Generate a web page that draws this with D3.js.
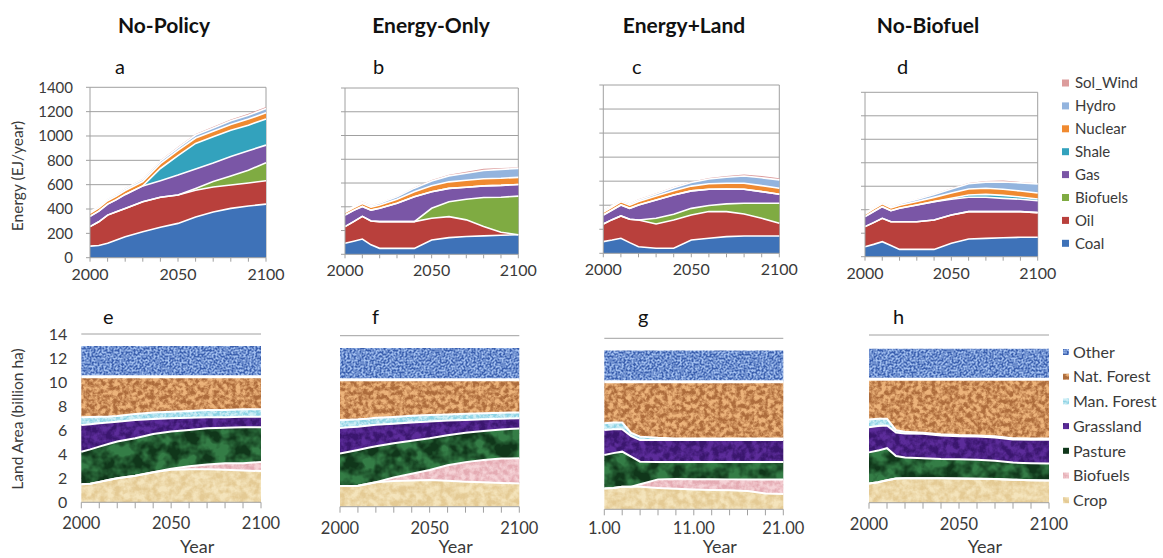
<!DOCTYPE html>
<html>
<head>
<meta charset="utf-8">
<script src="https://cdn.jsdelivr.net/npm/d3@7"></script>
<style>
  body { margin: 0; background: #fff; }
  svg { font-family: Lato, "Open Sans", sans-serif; }
</style>
</head>
<body>
<svg id="chart" width="1163" height="558"></svg>
<script>
// ---- data ----
const years = [2000, 2005, 2010, 2015, 2020, 2030, 2040, 2050, 2060, 2070, 2080, 2090, 2100];
const scenarios = ['No-Policy', 'Energy-Only', 'Energy+Land', 'No-Biofuel'];
const energyLetters = ['a', 'b', 'c', 'd'];
const landLetters = ['e', 'f', 'g', 'h'];
const energyKeys = ['Coal', 'Oil', 'Biofuels', 'Gas', 'Shale', 'Nuclear', 'Hydro', 'Sol_Wind'];
const landKeys = ['Crop', 'Biofuels', 'Pasture', 'Grassland', 'Man. Forest', 'Nat. Forest', 'Other'];
const energyTicks = [0, 200, 400, 600, 800, 1000, 1200, 1400];
const landTicks = [0, 2, 4, 6, 8, 10, 12, 14];
const yearLabels = [2000, 2050, 2100];
const indexLabels = [1, 11, 21];

// energy use, EJ/year
const energyNoPolicy = {
  Coal:     [95, 100, 118, 145, 172, 213, 250, 282, 335, 375, 405, 425, 440],
  Oil:      [160, 195, 232, 232, 233, 247, 246, 233, 219, 206, 192, 189, 192],
  Biofuels: [0, 0, 0, 0, 0, 0, 0, 0, 15, 45, 75, 105, 148],
  Gas:      [85, 88, 90, 100, 115, 130, 137, 164, 160, 152, 160, 160, 145],
  Shale:    [0, 0, 0, 0, 0, 0, 100, 160, 210, 215, 215, 210, 215],
  Nuclear:  [25, 26, 28, 30, 32, 36, 40, 42, 44, 46, 48, 50, 50],
  Hydro:    [12, 12, 13, 14, 15, 17, 20, 22, 25, 27, 30, 32, 35],
  Sol_Wind: [3, 3, 3, 4, 5, 6, 7, 8, 9, 10, 11, 12, 14]
};
const energyEnergyOnly = {
  Coal:     [93, 110, 128, 80, 50, 50, 50, 121, 140, 150, 155, 160, 165],
  Oil:      [140, 165, 191, 200, 225, 225, 225, 182, 177, 140, 79, 25, 0],
  Biofuels: [0, 0, 0, 0, 0, 0, 0, 84, 126, 174, 244, 295, 325],
  Gas:      [98, 95, 84, 92, 112, 154, 210, 140, 112, 101, 98, 100, 98],
  Shale:    [0, 0, 0, 0, 0, 0, 0, 0, 0, 0, 0, 0, 0],
  Nuclear:  [20, 22, 25, 25, 28, 35, 42, 50, 55, 58, 60, 60, 60],
  Hydro:    [8, 10, 12, 13, 15, 20, 30, 40, 50, 60, 70, 75, 75],
  Sol_Wind: [3, 3, 4, 4, 4, 5, 6, 8, 10, 12, 15, 12, 8]
};
const energyEnergyLand = {
  Coal:     [97, 110, 125, 89, 55, 42, 42, 111, 125, 139, 144, 144, 144],
  Oil:      [147, 170, 186, 194, 222, 202, 235, 208, 222, 208, 183, 147, 106],
  Biofuels: [0, 0, 0, 0, 0, 47, 48, 55, 50, 64, 89, 125, 166],
  Gas:      [75, 80, 91, 91, 125, 153, 160, 145, 136, 124, 117, 97, 75],
  Shale:    [0, 0, 0, 0, 0, 0, 0, 0, 0, 0, 0, 0, 0],
  Nuclear:  [22, 24, 26, 26, 28, 32, 36, 40, 45, 48, 50, 50, 50],
  Hydro:    [12, 12, 12, 13, 14, 18, 25, 30, 40, 50, 60, 65, 70],
  Sol_Wind: [6, 5, 4, 4, 5, 5, 6, 6, 8, 10, 12, 15, 14]
};
const energyNoBiofuel = {
  Coal:     [85, 105, 128, 95, 62, 62, 62, 114, 151, 156, 162, 165, 165],
  Oil:      [171, 185, 199, 203, 236, 236, 250, 241, 233, 228, 222, 219, 210],
  Biofuels: [0, 0, 0, 0, 0, 0, 0, 0, 0, 0, 0, 0, 0],
  Gas:      [85, 95, 99, 94, 114, 142, 157, 134, 122, 122, 113, 105, 102],
  Shale:    [0, 0, 0, 0, 0, 0, 0, 8, 20, 25, 25, 20, 15],
  Nuclear:  [20, 22, 24, 24, 26, 30, 36, 45, 50, 52, 52, 50, 50],
  Hydro:    [10, 11, 12, 12, 14, 18, 25, 35, 45, 52, 62, 70, 78],
  Sol_Wind: [3, 3, 3, 3, 4, 4, 5, 5, 6, 10, 12, 8, 6]
};

// land area, billion ha
const landNoPolicy = {
  'Crop':        [1.50, 1.55, 1.70, 1.85, 2.00, 2.20, 2.50, 2.70, 2.75, 2.75, 2.70, 2.65, 2.60],
  'Biofuels':    [0, 0, 0, 0, 0, 0, 0, 0.10, 0.25, 0.40, 0.55, 0.60, 0.75],
  'Pasture':     [2.70, 2.85, 2.93, 3.00, 3.05, 3.12, 3.18, 3.08, 3.02, 3.00, 2.96, 2.99, 2.89],
  'Grassland':   [2.23, 2.10, 1.94, 1.79, 1.66, 1.53, 1.25, 1.11, 1.02, 0.92, 0.86, 0.88, 0.88],
  'Man. Forest': [0.64, 0.60, 0.55, 0.50, 0.47, 0.50, 0.53, 0.55, 0.56, 0.61, 0.61, 0.61, 0.61],
  'Nat. Forest': [3.38, 3.35, 3.33, 3.31, 3.27, 3.10, 2.99, 2.91, 2.85, 2.77, 2.77, 2.72, 2.72],
  'Other':       [2.55, 2.55, 2.55, 2.55, 2.55, 2.55, 2.55, 2.55, 2.55, 2.55, 2.55, 2.55, 2.55]
};
const landEnergyOnly = {
  'Crop':        [1.70, 1.70, 1.72, 1.85, 2.00, 2.10, 2.15, 2.18, 2.13, 2.05, 2.00, 1.95, 1.90],
  'Biofuels':    [0, 0, 0, 0, 0, 0.30, 0.55, 0.82, 1.27, 1.60, 1.82, 2.00, 2.06],
  'Pasture':     [2.65, 2.80, 2.93, 2.95, 2.95, 2.80, 2.70, 2.60, 2.45, 2.40, 2.38, 2.37, 2.45],
  'Grassland':   [2.10, 2.00, 1.90, 1.82, 1.75, 1.60, 1.50, 1.38, 1.20, 1.05, 0.95, 0.88, 0.84],
  'Man. Forest': [0.65, 0.62, 0.60, 0.58, 0.58, 0.55, 0.55, 0.52, 0.50, 0.50, 0.50, 0.50, 0.47],
  'Nat. Forest': [3.30, 3.28, 3.25, 3.20, 3.12, 3.05, 2.95, 2.90, 2.85, 2.80, 2.75, 2.70, 2.68],
  'Other':       [2.60, 2.60, 2.60, 2.60, 2.60, 2.60, 2.60, 2.60, 2.60, 2.60, 2.60, 2.60, 2.60]
};
const landEnergyLand = {
  'Crop':        [1.70, 1.75, 1.85, 1.85, 1.85, 1.75, 1.68, 1.62, 1.58, 1.55, 1.50, 1.30, 1.25],
  'Biofuels':    [0, 0, 0, 0, 0.20, 0.70, 0.80, 0.85, 0.88, 0.90, 0.95, 1.15, 1.20],
  'Pasture':     [2.75, 2.85, 2.87, 2.46, 1.85, 1.43, 1.40, 1.41, 1.42, 1.43, 1.43, 1.43, 1.43],
  'Grassland':   [2.04, 1.95, 1.83, 1.69, 1.78, 1.80, 1.80, 1.80, 1.80, 1.80, 1.80, 1.80, 1.80],
  'Man. Forest': [0.56, 0.55, 0.55, 0.25, 0.27, 0.17, 0.12, 0.12, 0.12, 0.12, 0.12, 0.12, 0.12],
  'Nat. Forest': [3.40, 3.35, 3.35, 4.20, 4.50, 4.60, 4.65, 4.65, 4.65, 4.65, 4.65, 4.65, 4.65],
  'Other':       [2.55, 2.55, 2.55, 2.55, 2.55, 2.55, 2.55, 2.55, 2.55, 2.55, 2.55, 2.55, 2.55]
};
const landNoBiofuel = {
  'Crop':        [1.60, 1.70, 1.88, 2.02, 2.05, 2.05, 2.05, 2.02, 2.00, 1.98, 1.92, 1.88, 1.85],
  'Biofuels':    [0, 0, 0, 0, 0, 0, 0, 0, 0, 0, 0, 0, 0],
  'Pasture':     [2.60, 2.65, 2.67, 1.88, 1.73, 1.67, 1.60, 1.60, 1.58, 1.52, 1.43, 1.42, 1.43],
  'Grassland':   [2.10, 2.05, 1.90, 1.95, 2.00, 2.03, 1.97, 1.93, 1.94, 1.95, 1.93, 1.95, 1.97],
  'Man. Forest': [0.65, 0.60, 0.55, 0.20, 0.14, 0.10, 0.10, 0.10, 0.10, 0.10, 0.10, 0.10, 0.10],
  'Nat. Forest': [3.35, 3.30, 3.30, 4.25, 4.38, 4.45, 4.58, 4.65, 4.68, 4.75, 4.92, 4.95, 4.95],
  'Other':       [2.55, 2.55, 2.55, 2.55, 2.55, 2.55, 2.55, 2.55, 2.55, 2.55, 2.55, 2.55, 2.55]
};

const energyData = [energyNoPolicy, energyEnergyOnly, energyEnergyLand, energyNoBiofuel];
const landData = [landNoPolicy, landEnergyOnly, landEnergyLand, landNoBiofuel];

// ---- styles / layout ----
const energyColors = {
  Coal: '#3e72b8', Oil: '#b9403c', Biofuels: '#7fab42', Gas: '#7a56a6',
  Shale: '#33a2bd', Nuclear: '#f08a30', Hydro: '#93b4de', Sol_Wind: '#dc9c9c'
};
const landTextures = {
  'Other':       {light: '#a3c0ef', dark: '#3a5fae', freq: 0.5, k: 3, seed: 2},
  'Nat. Forest': {light: '#ecb37a', dark: '#ad6c3c', freq: 0.22, k: 3, seed: 5},
  'Man. Forest': {light: '#cdeef6', dark: '#8dd2e3', freq: 0.3, k: 3, seed: 7},
  'Grassland':   {light: '#5c2c9a', dark: '#3a166e', freq: 0.15, k: 3, seed: 9},
  'Pasture':     {light: '#347d46', dark: '#10361a', freq: 0.07, k: 3, seed: 11},
  'Biofuels':    {light: '#f5d2d6', dark: '#e4abb3', freq: 0.2, k: 2.5, seed: 13},
  'Crop':        {light: '#f4e4bc', dark: '#e4ca94', freq: 0.15, k: 2.5, seed: 15}
};
const energyBoxes = [
  {x0: 90, x1: 266, top: 87.3, bot: 257.7},
  {x0: 345, x1: 518.3, top: 88, bot: 254.3},
  {x0: 603.3, x1: 779.3, top: 85, bot: 253.3},
  {x0: 865, x1: 1037.7, top: 92.3, bot: 256.7}
];
const landBoxes = [
  {x0: 81.3, x1: 261, top: 334, bot: 502.3},
  {x0: 340, x1: 519.3, top: 335.7, bot: 506.7},
  {x0: 604.3, x1: 783.3, top: 338.3, bot: 509.3},
  {x0: 869, x1: 1049, top: 335, bot: 502.7}
];
const titleX = [164, 431, 684, 928];
const gridColor = '#a0a0a0';
const textColor = '#3a3a3a';

const svg = d3.select('#chart');
const defs = svg.append('defs');

const texId = k => 'tex-' + k.replace(/[^A-Za-z]/g, '');

const addTexture = function (key, t) {
  const f = defs.append('filter')
    .attr('id', texId(key))
    .attr('x', 0).attr('y', 0).attr('width', 1).attr('height', 1)
    .attr('color-interpolation-filters', 'sRGB');
  f.append('feTurbulence')
    .attr('type', 'fractalNoise')
    .attr('baseFrequency', t.freq)
    .attr('numOctaves', 3)
    .attr('seed', t.seed)
    .attr('result', 'n');
  const c = 0.5 - t.k * 0.5;
  const r = `${t.k} 0 0 0 ${c}`;
  f.append('feColorMatrix')
    .attr('in', 'n').attr('type', 'matrix')
    .attr('values', `${r} ${r} ${r} 0 0 0 0 1`)
    .attr('result', 't');
  const L = d3.rgb(t.light), D = d3.rgb(t.dark);
  const row = (l, d) => `${(d - l) / 255} 0 0 0 ${l / 255}`;
  f.append('feColorMatrix')
    .attr('in', 't').attr('type', 'matrix')
    .attr('values', `${row(L.r, D.r)} ${row(L.g, D.g)} ${row(L.b, D.b)} 0 0 0 0 1`)
    .attr('result', 'col');
  f.append('feComposite')
    .attr('in', 'col').attr('in2', 'SourceGraphic').attr('operator', 'in');
};
landKeys.forEach(k => addTexture(k, landTextures[k]));

const toRows = function (series, keys) {
  return years.map((yr, i) => {
    const row = {year: yr};
    keys.forEach(k => { row[k] = series[k][i]; });
    return row;
  });
};

const drawXAxis = function (g, x, box, tickVals, labelVals, fmt, tickLen, labelDy, fontSize) {
  g.append('line')
    .attr('x1', box.x0).attr('x2', box.x1)
    .attr('y1', box.bot).attr('y2', box.bot)
    .attr('stroke', gridColor);
  g.selectAll('.xtick').data(tickVals).enter().append('line')
    .attr('x1', d => x(d)).attr('x2', d => x(d))
    .attr('y1', box.bot).attr('y2', box.bot + tickLen)
    .attr('stroke', gridColor);
  g.selectAll('.xlab').data(labelVals).enter().append('text')
    .attr('x', d => x(d))
    .attr('y', box.bot + labelDy)
    .attr('text-anchor', 'middle')
    .attr('font-size', fontSize)
    .attr('fill', textColor)
    .text(fmt);
};

// ---- energy panels ----
const drawEnergy = function (idx) {
  const box = energyBoxes[idx];
  const g = svg.append('g');
  const x = d3.scaleLinear().domain([2000, 2100]).range([box.x0, box.x1]);
  const y = d3.scaleLinear().domain([0, 1400]).range([box.bot, box.top]);

  // grid + frame
  g.selectAll('.grid').data(energyTicks.slice(1)).enter().append('line')
    .attr('x1', box.x0).attr('x2', box.x1)
    .attr('y1', d => y(d)).attr('y2', d => y(d))
    .attr('stroke', gridColor);
  g.append('line')
    .attr('x1', box.x1).attr('x2', box.x1)
    .attr('y1', y(1400)).attr('y2', y(0))
    .attr('stroke', gridColor);

  const stacked = d3.stack().keys(energyKeys)(toRows(energyData[idx], energyKeys));
  const area = d3.area()
    .x(d => x(d.data.year))
    .y0(d => y(d[0]))
    .y1(d => y(d[1]));
  const topLine = d3.line()
    .x(d => x(d.data.year))
    .y(d => y(d[1]));

  g.selectAll('.area').data(stacked).enter().append('path')
    .attr('d', area)
    .attr('fill', d => energyColors[d.key]);
  g.selectAll('.edge').data(stacked.slice(0, -1)).enter().append('path')
    .attr('d', topLine)
    .attr('fill', 'none')
    .attr('stroke', '#fff')
    .attr('stroke-width', 1.6);

  // left axis
  g.append('line')
    .attr('x1', box.x0).attr('x2', box.x0)
    .attr('y1', y(1400)).attr('y2', y(0))
    .attr('stroke', gridColor);
  g.selectAll('.ytick').data(energyTicks).enter().append('line')
    .attr('x1', box.x0 - 4).attr('x2', box.x0)
    .attr('y1', d => y(d)).attr('y2', d => y(d))
    .attr('stroke', gridColor);
  if (idx === 0) {
    g.selectAll('.ylab').data(energyTicks).enter().append('text')
      .attr('x', box.x0 - 17)
      .attr('y', d => y(d))
      .attr('dy', '0.36em')
      .attr('text-anchor', 'end')
      .attr('font-size', 15)
      .attr('fill', textColor)
      .text(d => d);
  }

  drawXAxis(g, x, box, d3.range(2000, 2101, 10), yearLabels, d => d, 4, 22, 16);

  svg.append('text')
    .attr('x', titleX[idx]).attr('y', 33)
    .attr('text-anchor', 'middle')
    .attr('font-size', 21)
    .attr('font-weight', 'bold')
    .attr('fill', '#111')
    .text(scenarios[idx]);
  svg.append('text')
    .attr('x', [115, 373, 632, 897][idx]).attr('y', 74)
    .attr('font-size', 20)
    .attr('fill', '#111')
    .text(energyLetters[idx]);
};

// ---- land panels ----
const drawLand = function (idx) {
  const box = landBoxes[idx];
  const g = svg.append('g');
  const byIndex = idx === 2;
  const toX = byIndex ? (yr => (yr - 2000) / 5 + 1) : (yr => yr);
  const x = byIndex
    ? d3.scaleLinear().domain([1, 21]).range([box.x0, box.x1])
    : d3.scaleLinear().domain([2000, 2100]).range([box.x0, box.x1]);
  const y = d3.scaleLinear().domain([0, 14]).range([box.bot, box.top]);

  g.selectAll('.grid').data(landTicks.slice(1)).enter().append('line')
    .attr('x1', box.x0).attr('x2', box.x1)
    .attr('y1', d => y(d)).attr('y2', d => y(d))
    .attr('stroke', gridColor);

  const stacked = d3.stack().keys(landKeys)(toRows(landData[idx], landKeys));
  const area = d3.area()
    .x(d => x(toX(d.data.year)))
    .y0(d => y(d[0]))
    .y1(d => y(d[1]));
  const topLine = d3.line()
    .x(d => x(toX(d.data.year)))
    .y(d => y(d[1]));

  g.selectAll('.area').data(stacked).enter().append('path')
    .attr('d', area)
    .attr('fill', d => landTextures[d.key].light)
    .attr('filter', d => `url(#${texId(d.key)})`);
  g.selectAll('.edge').data(stacked.slice(0, -1)).enter().append('path')
    .attr('d', topLine)
    .attr('fill', 'none')
    .attr('stroke', '#fff')
    .attr('stroke-width', d => d.key === 'Nat. Forest' ? 3 : 2);

  if (idx === 0) {
    g.selectAll('.ylab').data(landTicks).enter().append('text')
      .attr('x', box.x0 - 14)
      .attr('y', d => y(d))
      .attr('dy', '0.36em')
      .attr('text-anchor', 'end')
      .attr('font-size', 16)
      .attr('fill', textColor)
      .text(d => d);
  }

  if (byIndex) {
    drawXAxis(g, x, box, d3.range(1, 22, 2), indexLabels, d3.format('.2f'), 6, 25, 16.5);
  } else {
    drawXAxis(g, x, box, d3.range(2000, 2101, 10), yearLabels, d => d, 6, 27, 16.5);
  }

  svg.append('text')
    .attr('x', (box.x0 + box.x1) / 2 + 26).attr('y', 553)
    .attr('text-anchor', 'middle')
    .attr('font-size', 18)
    .attr('fill', textColor)
    .text('Year');
  svg.append('text')
    .attr('x', [103, 372, 638, 893][idx]).attr('y', 324)
    .attr('font-size', 20)
    .attr('fill', '#111')
    .text(landLetters[idx]);
};

d3.range(4).forEach(drawEnergy);
d3.range(4).forEach(drawLand);

// axis titles
svg.append('text')
  .attr('transform', 'translate(23,176) rotate(-90)')
  .attr('text-anchor', 'middle')
  .attr('font-size', 15.5)
  .attr('fill', textColor)
  .text('Energy (EJ/year)');
svg.append('text')
  .attr('transform', 'translate(23,419) rotate(-90)')
  .attr('text-anchor', 'middle')
  .attr('font-size', 15.5)
  .attr('fill', textColor)
  .text('Land Area (billion ha)');

// legends
const energyLegend = svg.append('g').selectAll('g')
  .data(energyKeys.slice().reverse())
  .enter().append('g')
  .attr('transform', (d, i) => `translate(1062,${83 + i * 22.9})`);
energyLegend.append('rect')
  .attr('x', 0).attr('y', -3.5).attr('width', 7).attr('height', 7)
  .attr('fill', d => energyColors[d]);
energyLegend.append('text')
  .attr('x', 13).attr('dy', '0.36em')
  .attr('font-size', 15)
  .attr('fill', textColor)
  .text(d => d);

const landLegend = svg.append('g').selectAll('g')
  .data(landKeys.slice().reverse())
  .enter().append('g')
  .attr('transform', (d, i) => `translate(1063,${352 + i * 24.7})`);
landLegend.append('rect')
  .attr('x', 0).attr('y', -3).attr('width', 6).attr('height', 6)
  .attr('fill', d => landTextures[d].light)
  .attr('filter', d => `url(#${texId(d)})`);
landLegend.append('text')
  .attr('x', 10).attr('dy', '0.36em')
  .attr('font-size', 16)
  .attr('fill', textColor)
  .text(d => d);
</script>
</body>
</html>
